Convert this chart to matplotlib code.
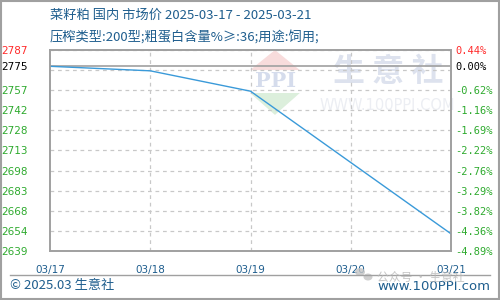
import matplotlib
matplotlib.use("Agg")
import matplotlib.pyplot as plt
from matplotlib.patches import Rectangle, Polygon, Ellipse
from matplotlib.lines import Line2D
import numpy as np

dates = ["03/17", "03/18", "03/19", "03/20", "03/21"]
prices = [2775.0, 2771.67, 2756.67, 2704.17, 2651.67]
base = 2775.0
ymin, ymax = 2639.0, 2787.0
left_labels = ["2787", "2775", "2757", "2742", "2728", "2713", "2698", "2683", "2668", "2654", "2639"]
right_labels = ["0.44%", "0.00%", "-0.62%", "-1.16%", "-1.69%", "-2.22%", "-2.76%", "-3.29%", "-3.82%", "-4.36%", "-4.89%"]
title1 = "菜籽粕 国内 市场价 2025-03-17 - 2025-03-21"
title2 = "压榨类型:200型;粗蛋白含量%≥:36;用途:饲用;"

plt.rcParams['font.family'] = ['Noto Sans CJK SC', 'DejaVu Sans']

fig = plt.figure(figsize=(5, 3), dpi=100)
ax = fig.add_axes([0.1, 1 - 251 / 300, 0.802, 201 / 300])

x = np.arange(len(dates))
grid_vals = np.linspace(ymin, ymax, 11)[::-1]
tick_vals = [grid_vals[0], base] + list(grid_vals[2:])

# watermark
ax.text(0.843, 0.89, "生 意 社", transform=ax.transAxes, fontsize=23, color="#dde2ee",
        ha="center", va="center", fontweight="bold", zorder=0)
ax.text(0.84, 0.726, "WWW.100PPI.COM", transform=ax.transAxes, fontsize=10.5, color="#eceef3",
        ha="center", va="center", family="DejaVu Sans", zorder=0)
ax.add_patch(Polygon([[0.499, 0.90], [0.561, 1.0], [0.623, 0.90]], closed=True, transform=ax.transAxes,
                     color="#f8dcdc", zorder=0, lw=0, clip_on=False))
ax.add_patch(Polygon([[0.499, 0.786], [0.561, 0.677], [0.623, 0.786]], closed=True, transform=ax.transAxes,
                     color="#dcefdc", zorder=0, lw=0))
ax.text(0.562, 0.846, "PPI", transform=ax.transAxes, fontsize=15, color="#d5dcec",
        ha="center", va="center", family="DejaVu Serif", fontweight="bold", zorder=0)

for g in grid_vals[1:-1]:
    ax.axhline(g, color="#c8c8c8", lw=0.9, ls=(0, (3, 3)), zorder=1)
for xi in x[1:-1]:
    ax.axvline(xi, color="#c8c8c8", lw=0.9, ls=(0, (3, 3)), zorder=1)
ax.axhline(grid_vals[0], color="#c8c8c8", lw=0.9, ls=(0, (3, 3)), zorder=1)
ax.axhline(base, color="#a0a0a0", lw=1.2, zorder=2)

ax.plot(x, prices, color="#3a9ad9", lw=1.0, zorder=3)

ax.set_xlim(0, len(dates) - 1)
ax.set_ylim(ymin, ymax)
ax.set_xticks(x)
ax.set_xticklabels(dates, family="DejaVu Sans", fontsize=7.5, color="#1f5e8e")
ax.tick_params(axis="x", length=0, pad=10)

ax.set_yticks(tick_vals)
ax.set_yticklabels(left_labels, family="DejaVu Sans", fontsize=7.5)
ax.tick_params(axis="y", length=0, pad=16)
for i, t in enumerate(ax.get_yticklabels()):
    t.set_color("#ff2a2a" if i == 0 else ("black" if i == 1 else "#2eaa2e"))

ax2 = ax.twinx()
ax2.set_ylim(ymin, ymax)
ax2.set_yticks(tick_vals)
ax2.set_yticklabels(right_labels, family="DejaVu Sans Mono", fontsize=7.5)
ax2.tick_params(axis="y", length=0, pad=3)
for i, t in enumerate(ax2.get_yticklabels()):
    t.set_color("#ff2a2a" if i == 0 else ("black" if i == 1 else "#2eaa2e"))

for a in (ax, ax2):
    for s in a.spines.values():
        s.set_color("#a0a0a0")
        s.set_linewidth(1.2)

fig.text(50 / 500, 1 - 15 / 300, title1, fontsize=9.5, color="#1f5e8e", ha="left", va="center")
fig.text(50 / 500, 1 - 37 / 300, title2, fontsize=9.5, color="#1f5e8e", ha="left", va="center")

fig.add_artist(Line2D([10 / 500, 490 / 500], [1 - 275 / 300] * 2, color="#a0a0a0", lw=1.0,
                      transform=fig.transFigure))
fig.text(10 / 500, 1 - 286 / 300, "© 2025.03 生意社", fontsize=9.5, color="#1f5e8e", ha="left", va="center")
fig.text(490 / 500, 1 - 287 / 300, "www.100PPI.com", fontsize=9.5, color="#1f5e8e", ha="right", va="center",
         family="DejaVu Sans")
# wechat watermark
fig.add_artist(Ellipse((360 / 500, 1 - 272 / 300), 10 / 500, 8 / 300, transform=fig.transFigure,
                       color="#c4c4c4", alpha=0.8, lw=0))
fig.add_artist(Ellipse((368 / 500, 1 - 277 / 300), 9 / 500, 7 / 300, transform=fig.transFigure,
                       color="#c4c4c4", alpha=0.8, lw=0))
fig.text(377 / 500, 1 - 277 / 300, "公众号 · 生意社", fontsize=8.5, color="#b8b8b8", ha="left", va="center",
         alpha=0.8)

fig.add_artist(Rectangle((0.001, 0.002), 0.997, 0.996, transform=fig.transFigure, fill=False,
                         edgecolor="#a0a0a0", lw=1.5))

fig.savefig("out.png", dpi=100)
